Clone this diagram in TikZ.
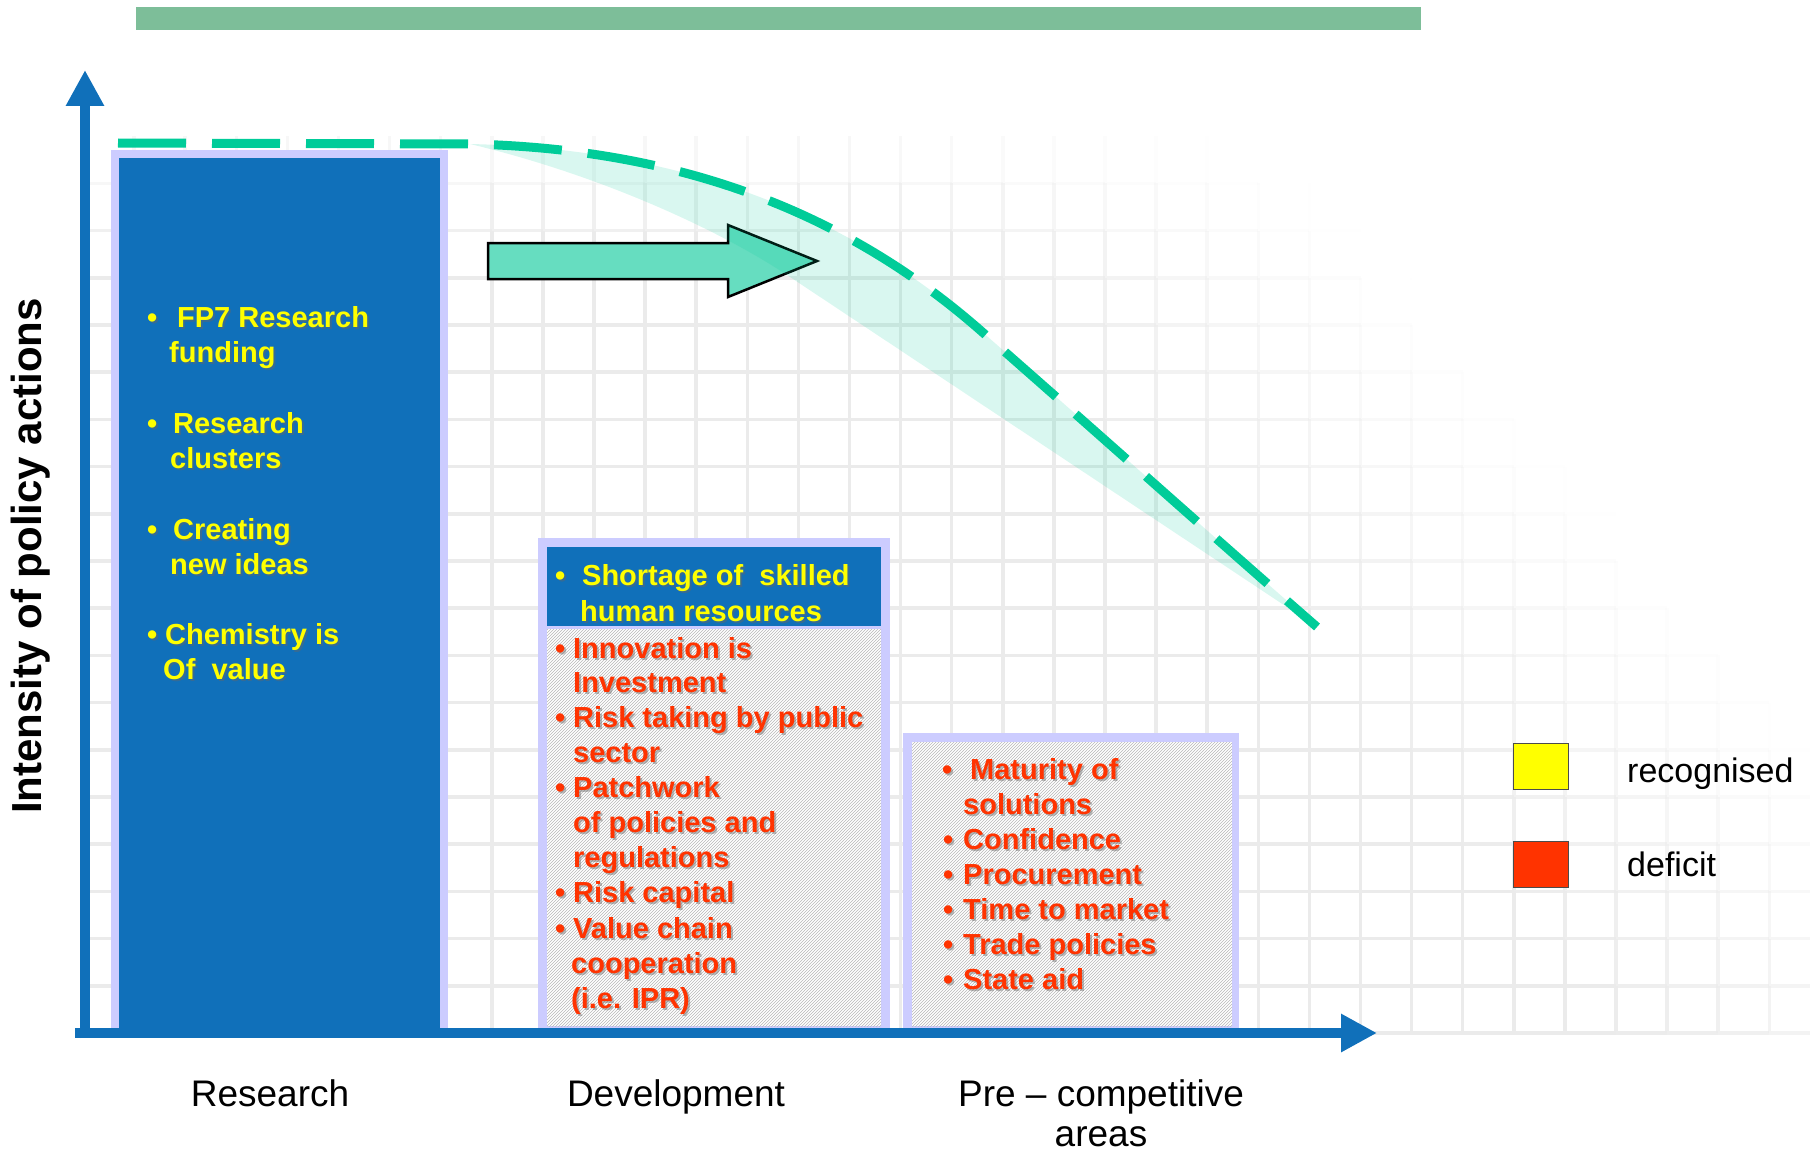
\documentclass[tikz,border=0pt]{standalone}
\usepackage{fontspec}
\setmainfont{Liberation Sans}
\usetikzlibrary{arrows.meta,patterns}

\definecolor{axisblue}{RGB}{16,112,186}
\definecolor{lavender}{RGB}{204,204,255}
\definecolor{topbar}{RGB}{125,190,153}
\definecolor{curveteal}{RGB}{0,204,153}
\definecolor{arrowteal}{RGB}{102,221,192}
\definecolor{txtyellow}{RGB}{255,255,0}
\definecolor{txtred}{RGB}{255,51,0}

\newcommand{\itembul}[1]{\makebox[#1][l]{\textbullet}}

\tikzset{
  gridline/.style={black!8, line width=3.5pt},
  axis/.style={axisblue, line width=10.5pt, -{Triangle[length=36pt,width=36pt]}},
  curveline/.style={curveteal, line width=9pt, dash pattern=on 68pt off 26pt},
  hatchbox/.style={pattern=north east lines, pattern color=black!28},
  boxtxt/.style={anchor=base west, inner sep=0pt, font=\fontsize{29}{35}\selectfont\bfseries},
  yeltxt/.style={boxtxt, text=txtyellow},
  redtxt/.style={boxtxt, text=txtred},
  shadowtxt/.style={text=black!60, opacity=.45},
  axislabel/.style={anchor=base, inner sep=0pt, font=\fontsize{37}{44}\selectfont},
  legtxt/.style={anchor=base west, inner sep=0pt, font=\fontsize{34}{40}\selectfont},
  legbox/.style={draw=black!70, line width=1pt}
}

\begin{document}
\begin{tikzpicture}[x=1pt,y=-1pt]
\useasboundingbox (0,0) rectangle (1810,1153);

\def\gw{51.1}
\def\gh{47.2}
\foreach \i in {0,...,34}{
  \foreach \j in {0,...,18}{
    \pgfmathsetmacro\gx{83+\gw*\i}
    \pgfmathsetmacro\gy{1033-\gh*\j}
    \pgfmathsetmacro\gop{max(0,min(1,(2050-\gx-0.9*(1033-\gy))/450))*min(1,(\gy-120)/150)}
    \draw[gridline, draw opacity=\gop] (\gx,\gy) -- ++(\gw,0) (\gx,\gy) -- ++(0,-\gh);
  }
}

\fill[topbar] (136,7) rectangle (1421,30);

\fill[lavender] (111,150) rectangle (448,1033);
\fill[axisblue] (119,158) rectangle (440,1033);

\fill[lavender] (538,538) rectangle (890,1033);
\fill[axisblue] (547,547) rectangle (881,626);
\fill[white] (547,629) rectangle (881,1026);
\fill[hatchbox] (547,629) rectangle (881,1026);

\fill[lavender] (903,733) rectangle (1239,1033);
\fill[white] (912,742) rectangle (1232,1026);
\fill[hatchbox] (912,742) rectangle (1232,1026);

\draw[fill=arrowteal, line width=2.5pt, line join=miter]
  (488,243) -- (728,243) -- (728,225) -- (817,261) -- (728,297) -- (728,279) -- (488,279) -- cycle;
\fill[curveteal, opacity=.15] (470,144) .. controls (600,175) and (720,230) .. (790,277) -- (1317,627)
  .. controls (1200,525) and (1100,435) .. (980,330) .. controls (820,190) and (640,148) .. (470,144) -- cycle;
\draw[curveline] (118,143) -- (470,144) .. controls (640,148) and (820,190) .. (980,330)
  .. controls (1100,435) and (1200,525) .. (1317,627);

\coordinate (ybase) at (85,1038);
\coordinate (ytip) at (85,70);
\coordinate (xbase) at (75,1033);
\coordinate (xtip) at (1377,1033);
\draw[axis] (ybase) -- (ytip);
\draw[axis] (xbase) -- (xtip);

\foreach \x/\y/\t [count=\n] in {147/327/\itembul{30pt}FP7 Research, 169/362/funding,
    147/433/\itembul{26pt}Research, 170/468/clusters, 147/539/\itembul{26pt}Creating,
    170/574/new ideas, 147/644/\itembul{18pt}Chemistry is, 163/679/Of\ \ value,
    555/585/\itembul{27pt}Shortage of\ \ skilled, 580/621/human resources}{
  \node[yeltxt, shadowtxt] (resS\n) at (\x+2,\y+2) {\t};
  \node[yeltxt] (res\n) at (\x,\y) {\t};
}

\foreach \x/\y/\t [count=\n] in {555/658/\itembul{18pt}Innovation is, 573/692/Investment,
    555/727/\itembul{18pt}Risk taking by public, 573/762/sector, 555/797/\itembul{18pt}Patchwork,
    573/832/of policies and, 573/867/regulations, 555/902/\itembul{18pt}Risk capital,
    555/938/\itembul{18pt}Value chain, 571/973/cooperation, 571/1008/(i.e. IPR),
    942/779/\itembul{28pt}Maturity of, 963/814/solutions, 943/849/\itembul{20pt}Confidence,
    943/884/\itembul{20pt}Procurement, 943/919/\itembul{20pt}Time to market,
    943/954/\itembul{20pt}Trade policies, 943/989/\itembul{20pt}State aid}{
  \node[redtxt, shadowtxt] (defS\n) at (\x+2,\y+2) {\t};
  \node[redtxt] (def\n) at (\x,\y) {\t};
}

\node[rotate=90, inner sep=0pt, font=\fontsize{42}{50}\selectfont\bfseries] (ylabel) at (31,556)
  {Intensity of policy actions};

\node[axislabel] (research) at (270,1106) {Research};
\node[axislabel] (development) at (676,1106) {Development};
\node[axislabel] (precomp) at (1101,1106) {Pre -- competitive};
\node[axislabel] (areas) at (1101,1146) {areas};

\draw[legbox, fill=txtyellow] (1513,743) rectangle (1568,789);
\draw[legbox, fill=txtred] (1513,841) rectangle (1568,887);
\node[legtxt] (recognised) at (1627,782) {recognised};
\node[legtxt] (deficit) at (1627,876) {deficit};
\end{tikzpicture}
\end{document}
